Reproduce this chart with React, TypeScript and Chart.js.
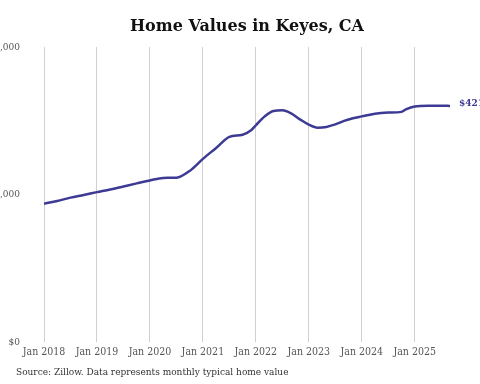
import React, { useEffect, useRef } from "react";
import { Chart, registerables } from "chart.js";

Chart.register(...registerables);

// Month index (0 = Jan 2018) and typical home value in USD
const months = [0, 3, 6, 9, 12, 15, 18, 21, 24, 27, 30, 33, 36, 39, 42, 45, 47, 48, 50, 52, 54, 56, 58, 60, 62, 64, 66, 68, 70, 72, 75, 78, 81, 82, 84, 87, 90, 92];
const values = [246500, 251500, 257400, 262200, 267200, 272000, 277400, 282800, 288100, 292600, 292900, 305000, 326500, 346000, 365700, 369600, 378200, 386200, 402300, 412000, 413000, 407600, 397000, 387500, 382100, 383500, 388000, 394200, 399000, 402300, 407100, 409000, 410300, 414800, 420100, 421400, 421400, 421000];

const xTickMonths = [0, 12, 24, 36, 48, 60, 72, 84];
const xTickLabels = ["Jan 2018", "Jan 2019", "Jan 2020", "Jan 2021", "Jan 2022", "Jan 2023", "Jan 2024", "Jan 2025"];
const yTickValues = [0, 263000, 526000];
const yTickLabels = ["$0", "$263,000", "$526,000"];

const title = "Home Values in Keyes, CA";
const source = "Source: Zillow. Data represents monthly typical home value";
const endLabel = "$421,000";

const LINE = "#3d3a94";
const SERIF = "'DejaVu Serif Condensed', 'DejaVu Serif', serif";

export default function App() {
  const ref = useRef<HTMLCanvasElement | null>(null);
  useEffect(() => {
    if (!ref.current) return;
    const overlay = {
      id: "overlay",
      afterDraw(chart: any) {
        const ctx = chart.ctx;
        const area = chart.chartArea;
        const ys = chart.scales.y;
        ctx.save();
        // title
        ctx.fillStyle = "#111";
        ctx.font = "bold 16px 'DejaVu Serif', serif";
        ctx.textAlign = "center";
        ctx.textBaseline = "middle";
        ctx.fillText(title, 247, 27);
        // y labels
        ctx.fillStyle = "#555";
        ctx.font = "10px " + SERIF;
        ctx.textAlign = "right";
        yTickValues.forEach((v, i) => {
          ctx.fillText(yTickLabels[i], area.left - 24, ys.getPixelForValue(v));
        });
        // end label
        const meta = chart.getDatasetMeta(0);
        const last = meta.data[meta.data.length - 1];
        ctx.fillStyle = LINE;
        ctx.font = "bold 10px " + SERIF;
        ctx.textAlign = "left";
        ctx.fillText(endLabel, last.x + 9, last.y - 2);
        // source
        ctx.fillStyle = "#333";
        ctx.font = "10px " + SERIF;
        ctx.fillText(source, 16, 372);
        ctx.restore();
      },
    };
    const chart = new Chart(ref.current, {
      type: "line",
      data: {
        datasets: [
          {
            data: months.map((m, i) => ({ x: m, y: values[i] })),
            borderColor: LINE,
            borderWidth: 2.5,
            pointRadius: 0,
            tension: 0.4,
            cubicInterpolationMode: "monotone",
            fill: false,
          },
        ],
      },
      options: {
        animation: false,
        responsive: false,
        layout: { padding: { left: 44, right: 30, top: 47, bottom: 0 } },
        plugins: { legend: { display: false }, tooltip: { enabled: false } },
        scales: {
          x: {
            type: "linear",
            min: 0,
            max: 92,
            afterBuildTicks: (axis: any) => {
              axis.ticks = xTickMonths.map((v) => ({ value: v }));
            },
            afterFit: (axis: any) => {
              axis.height = 42;
            },
            border: { display: false },
            grid: { color: "#d0d0d0", lineWidth: 1, drawTicks: false },
            ticks: {
              padding: 4,
              maxRotation: 0,
              autoSkip: false,
              color: "#555",
              font: { family: SERIF, size: 10.5 },
              callback: (v: any) => xTickLabels[xTickMonths.indexOf(Number(v))] ?? "",
            },
          },
          y: { display: false, min: 0, max: 526000 },
        },
      },
      plugins: [overlay],
    } as any);
    return () => chart.destroy();
  }, []);
  return (
    <div style={{ position: "fixed", left: 0, top: 0, width: 480, height: 384, background: "#fff" }}>
      <canvas ref={ref} width={480} height={384} />
    </div>
  );
}
